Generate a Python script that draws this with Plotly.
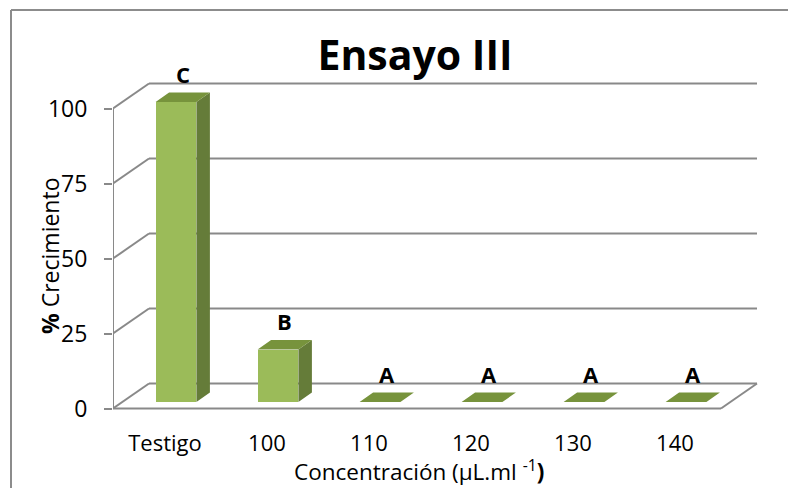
import plotly.graph_objects as go

# ---- data -------------------------------------------------------------
categorias = ["Testigo", "100", "110", "120", "130", "140"]
crecimiento = [100, 17.5, 0, 0, 0, 0]
letras = ["C", "B", "A", "A", "A", "A"]
marcas_y = [0, 25, 50, 75, 100]

# ---- page geometry (pixels) ------------------------------------------
W, H = 788, 488
L, R, T, B = 113, 10, 64, 60
CAT_PX = 102.0      # horizontal pixels per category
UNIT_PX = 3.0       # vertical pixels per % unit
X0 = 176.0          # pixel x of the first bar centre
Y0 = 408.5          # pixel y of 0 on the front axis


def xd(px):
    return (px - X0) / CAT_PX


def yd(py):
    return (Y0 - py) / UNIT_PX


def xp(px):
    return (px - L) / (W - L - R)


def yp(py):
    return (H - B - py) / (H - T - B)


x_range = [xd(L), xd(W - R)]
y_range = [yd(H - B), yd(T)]

# 3-D wall / floor depth
WALL_DX = 36 / CAT_PX
WALL_DV = 25 / UNIT_PX
X_AXIS = x_range[0]
X_FLOOR_R = xd(721)

# bar box depth
HALF_W = 0.2
BAR_BASE = 6.5 / UNIT_PX
BAR_DX = 13.5 / CAT_PX
BAR_DV = 9.5 / UNIT_PX

GRID = "#898989"
FRONT = "#9BBB59"
SIDE = "#657C39"
TOP = "#77933C"
FONT = "Open Sans"

fig = go.Figure()

# front faces of the bars
xs = list(range(len(categorias)))
fig.add_trace(go.Bar(
    x=xs, y=crecimiento, base=BAR_BASE, width=2 * HALF_W,
    marker=dict(color=FRONT, line=dict(width=0)),
    hoverinfo="skip", showlegend=False,
))

# side and top faces
side_x, side_y, top_x, top_y = [], [], [], []
for i, v in zip(xs, crecimiento):
    b0 = BAR_BASE
    b1 = BAR_BASE + v
    if v > 0:
        side_x += [i + HALF_W, i + HALF_W + BAR_DX, i + HALF_W + BAR_DX, i + HALF_W, i + HALF_W, None]
        side_y += [b0, b0 + BAR_DV, b1 + BAR_DV, b1, b0, None]
    top_x += [i - HALF_W, i + HALF_W, i + HALF_W + BAR_DX, i - HALF_W + BAR_DX, i - HALF_W, None]
    top_y += [b1, b1, b1 + BAR_DV, b1 + BAR_DV, b1, None]

fig.add_trace(go.Scatter(x=side_x, y=side_y, fill="toself", fillcolor=SIDE,
                         mode="lines", line=dict(width=0, color=SIDE),
                         hoverinfo="skip", showlegend=False))
fig.add_trace(go.Scatter(x=top_x, y=top_y, fill="toself", fillcolor=TOP,
                         mode="lines", line=dict(width=0, color=TOP),
                         hoverinfo="skip", showlegend=False))

# walls, gridlines and floor
shapes = []
line = dict(color=GRID, width=2)
for v in marcas_y:
    # back wall gridline
    shapes.append(dict(type="line", xref="x", yref="y", layer="below",
                       x0=X_AXIS + WALL_DX, y0=v + WALL_DV,
                       x1=X_FLOOR_R + WALL_DX, y1=v + WALL_DV, line=line))
    # side wall diagonal
    shapes.append(dict(type="line", xref="x", yref="y", layer="below",
                       x0=X_AXIS, y0=v, x1=X_AXIS + WALL_DX, y1=v + WALL_DV,
                       line=line))
# front axis
shapes.append(dict(type="line", xref="x", yref="y", layer="below",
                   x0=X_AXIS, y0=marcas_y[0], x1=X_AXIS, y1=marcas_y[-1],
                   line=line))
# floor front edge and right edge
shapes.append(dict(type="line", xref="x", yref="y", layer="below",
                   x0=X_AXIS, y0=0, x1=X_FLOOR_R, y1=0, line=line))
shapes.append(dict(type="line", xref="x", yref="y", layer="below",
                   x0=X_FLOOR_R, y0=0, x1=X_FLOOR_R + WALL_DX, y1=WALL_DV,
                   line=line))
# chart frame
shapes.append(dict(type="line", xref="paper", yref="paper",
                   x0=xp(11), y0=yp(10), x1=xp(11), y1=yp(H + 5),
                   line=dict(color="#8C8C8C", width=2)))
shapes.append(dict(type="line", xref="paper", yref="paper",
                   x0=xp(11), y0=yp(10), x1=xp(W + 5), y1=yp(10),
                   line=dict(color="#8C8C8C", width=2)))

# significance letters
annotations = []
for i, v, t in zip(xs, crecimiento, letras):
    annotations.append(dict(
        x=i + BAR_DX / 2, y=BAR_BASE + v + BAR_DV, xref="x", yref="y",
        text=f"<b>{t}</b>", showarrow=False, yanchor="middle", yshift=19,
        font=dict(family=FONT, size=22, color="black"),
    ))

# axis titles
annotations.append(dict(
    x=xp(419), y=yp(470), xref="paper", yref="paper",
    text="Concentración (µL.ml <sup>-1</sup><b>)</b>", showarrow=False,
    xanchor="center", yanchor="middle",
    font=dict(family=FONT, size=22.5, color="black"),
))
annotations.append(dict(
    x=xp(50), y=yp(256), xref="paper", yref="paper",
    text="<b>%</b> Crecimiento", showarrow=False, textangle=-90,
    xanchor="center", yanchor="middle",
    font=dict(family=FONT, size=23, color="black"),
))

fig.update_layout(
    width=W, height=H,
    margin=dict(l=L, r=R, t=T, b=B, pad=0),
    paper_bgcolor="white", plot_bgcolor="white",
    shapes=shapes, annotations=annotations,
    title=dict(text="<b>Ensayo III</b>", xref="container", yref="container",
               x=415 / W, xanchor="center",
               y=1 - 56 / H, yanchor="middle",
               font=dict(family=FONT, size=41, color="black")),
    xaxis=dict(range=x_range, tickvals=[i - 0.108 for i in xs],
               ticktext=categorias, showgrid=False, zeroline=False,
               showline=False, ticks="",
               tickfont=dict(family=FONT, size=22, color="black")),
    yaxis=dict(range=y_range, tickvals=marcas_y, showgrid=False,
               zeroline=False, showline=False, ticks="outside", ticklen=8,
               tickwidth=2, tickcolor=GRID, ticklabelstandoff=12,
               tickfont=dict(family=FONT, size=23, color="black")),
    bargap=0,
    showlegend=False,
)

fig.write_html("out.html")
